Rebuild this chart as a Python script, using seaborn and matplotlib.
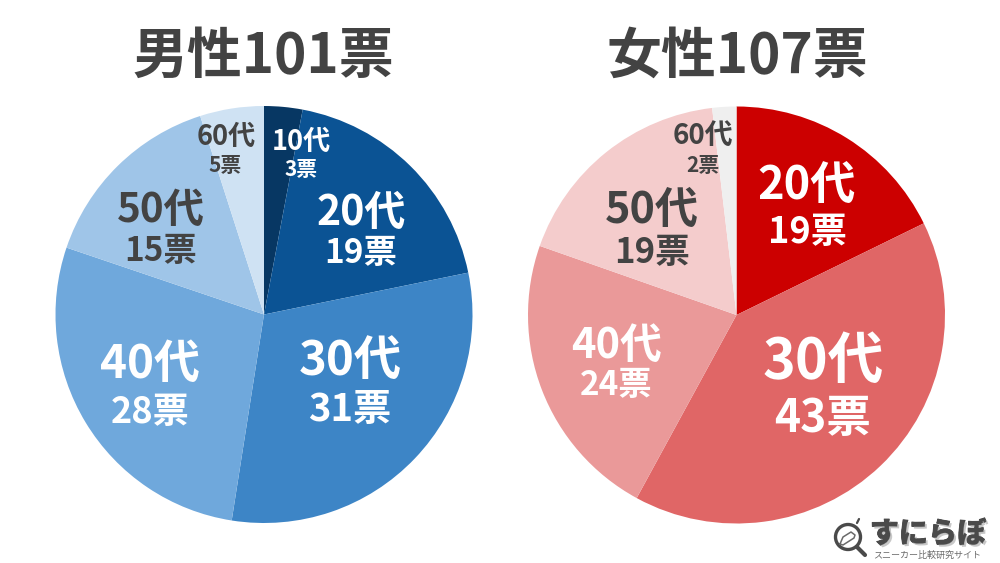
import matplotlib
matplotlib.use("Agg")
import matplotlib.pyplot as plt
import matplotlib.patheffects as pe
from matplotlib.patches import Circle
import seaborn as sns

sns.set_theme(style="white")
plt.rcParams['font.family'] = ['Noto Sans CJK JP', 'DejaVu Sans']

W, H = 1000, 563
male_titles = "男性101票"
female_titles = "女性107票"
male_ages = ["10代", "20代", "30代", "40代", "50代", "60代"]
male_votes = [3, 19, 31, 28, 15, 5]
male_colors = ["#073763", "#0b5394", "#3d85c6", "#6fa8dc", "#9fc5e8", "#cfe2f3"]
female_ages = ["20代", "30代", "40代", "50代", "60代"]
female_votes = [19, 43, 24, 19, 2]
female_colors = ["#cc0000", "#e06666", "#ea9999", "#f4cccc", "#efefef"]

WHITE, DARK = "#ffffff", "#434343"
# age x, age y, age size, votes x, votes y, votes size, colour
male_layout = [
    (301, 142, 19.5, 301, 170, 15, WHITE),
    (361, 213, 29.5, 361, 254, 24, WHITE),
    (350, 362, 34, 350, 410, 27.5, WHITE),
    (150, 365, 33, 150, 412, 26, WHITE),
    (161, 210, 29, 161, 251, 24, DARK),
    (226, 137, 19.5, 225, 166, 15, DARK),
]
female_layout = [
    (807, 187, 32.5, 807, 232, 26, WHITE),
    (823, 362, 40, 823, 419, 32, WHITE),
    (616, 346, 30, 616, 385, 24, WHITE),
    (652, 210, 31, 652, 252, 25, DARK),
    (703, 136, 20, 703, 165, 15, DARK),
]

fig = plt.figure(figsize=(W / 100, H / 100), dpi=100, facecolor="white")


def pie(cx, cy, r, votes, colors):
    ax = fig.add_axes([(cx - r) / W, 1 - (cy + r) / H, 2 * r / W, 2 * r / H])
    ax.pie(votes, colors=colors, startangle=90, counterclock=False, radius=1,
           wedgeprops={"linewidth": 0})
    ax.set_xlim(-1, 1)
    ax.set_ylim(-1, 1)
    ax.axis("off")


pie(264, 314.5, 208.5, male_votes, male_colors)
pie(736.5, 315, 208.5, female_votes, female_colors)

ov = fig.add_axes([0, 0, 1, 1], facecolor="none")
ov.set_xlim(0, W)
ov.set_ylim(H, 0)
ov.axis("off")


def label(x, y, s, size, color, weight="bold", **kw):
    return ov.text(x, y, s, fontsize=size, color=color, fontweight=weight,
                   ha="center", va="center", **kw)


label(263, 56, male_titles, 39.5, DARK)
label(737, 56, female_titles, 39.5, DARK)

for ages, votes, layout in ((male_ages, male_votes, male_layout),
                            (female_ages, female_votes, female_layout)):
    for age, v, (ax_, ay, asz, vx, vy, vsz, c) in zip(ages, votes, layout):
        label(ax_, ay, age, asz, c)
        label(vx, vy, f"{v}票", vsz, c)

# logo
ov.add_patch(Circle((848, 537), 12.5, fill=False, ec="#4a4a4a", lw=2.4))
ov.plot([857, 865], [547, 555], color="#4a4a4a", lw=3, solid_capstyle="round")
ov.plot([857, 859], [523, 519], color="#4a4a4a", lw=1.6)
ov.plot([840, 843, 851, 855, 854, 843, 840], [544, 537, 532, 535, 538, 545, 544],
        color="#6a6a6a", lw=1.1)
label(928, 534, "すにらぼ", 21, "#4a4a4a", weight="black",
      path_effects=[pe.withStroke(linewidth=0.6, foreground="#4a4a4a"),
                    pe.SimplePatchShadow(offset=(1.5, -1.5), shadow_rgbFace="#bbbbbb", alpha=0.8),
                    pe.Normal()])
label(927, 555, "スニーカー比較研究サイト", 6.5, "#6a6a6a", weight="normal")

fig.savefig("out.png", dpi=100)
